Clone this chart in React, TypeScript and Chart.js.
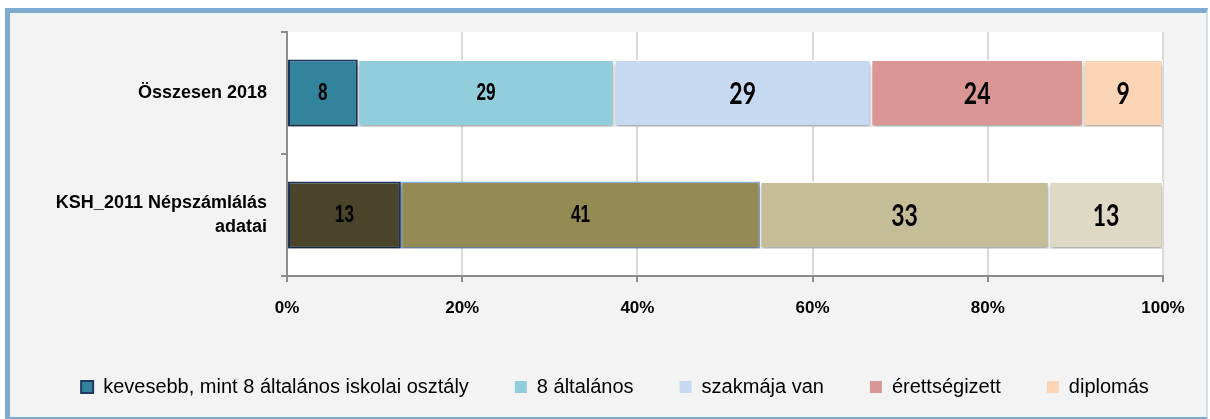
import React, { useEffect, useRef } from "react";
import { Chart, registerables } from "chart.js";

Chart.register(...registerables);

const categories: (string | string[])[] = ["Összesen 2018", ["KSH_2011 Népszámlálás", "adatai"]];
const seriesNames = [
  "kevesebb, mint 8 általános iskolai osztály",
  "8 általános",
  "szakmája van",
  "érettségizett",
  "diplomás",
];
const kevesebb = [8, 13];
const altalanos8 = [29, 41];
const szakmaja = [29, 33];
const erettsegi = [24, 13];
const diplomas = [9, null];
const xTicks = [0, 20, 40, 60, 80, 100];

const seriesValues: (number | null)[][] = [kevesebb, altalanos8, szakmaja, erettsegi, diplomas];
const fillColors = [
  ["#31849B", "#4A452A"],
  ["#92CDDC", "#948A54"],
  ["#C6D9F1", "#C4BD97"],
  ["#D99694", "#DDD9C4"],
  ["#FBD5B5", "#FFFFFF"],
];
const borderColors = [
  ["#1F3A5F", "#1F3A5F"],
  ["#FFFFFF", "#8DB3E2"],
  ["#FFFFFF", "#FFFFFF"],
  ["#FFFFFF", "#FFFFFF"],
  ["#FFFFFF", "#FFFFFF"],
];

const ARIAL = "'Liberation Sans', Arial, sans-serif";
const CALIBRI = "Lato, 'Open Sans', sans-serif";

export default function App() {
  const ref = useRef<HTMLCanvasElement | null>(null);

  useEffect(() => {
    if (!ref.current) return;
    const totals = categories.map((_, i) =>
      seriesValues.reduce((s, arr) => s + (arr[i] ?? 0), 0)
    );
    const datasets = seriesNames.map((name, d) => ({
      label: name,
      data: seriesValues[d].map((v, i) => (v == null ? null : (v / totals[i]) * 100)),
      backgroundColor: fillColors[d],
      borderColor: borderColors[d],
      borderWidth: d === 0 ? 2 : 1.5,
      borderSkipped: false as const,
      barPercentage: 0.55,
      categoryPercentage: 1,
    }));

    const deco = {
      id: "deco",
      afterLayout(chart: any) {
        if (chart.legend) {
          chart.legend.left += 14;
        }
      },
      beforeDraw(chart: any) {
        const { ctx, chartArea } = chart;
        ctx.save();
        ctx.fillStyle = "#FFFFFF";
        ctx.fillRect(chartArea.left, chartArea.top, chartArea.right - chartArea.left, chartArea.bottom - chartArea.top);
        ctx.restore();
      },
      beforeDatasetsDraw(chart: any) {
        const ctx = chart.ctx;
        ctx.save();
        ctx.shadowColor = "rgba(0,0,0,0.35)";
        ctx.shadowBlur = 4;
        ctx.shadowOffsetY = 3;
      },
      afterDatasetsDraw(chart: any) {
        const ctx = chart.ctx;
        ctx.restore();
        ctx.save();
        ctx.fillStyle = "#000";
        ctx.textAlign = "center";
        ctx.textBaseline = "middle";
        seriesValues.forEach((arr, d) => {
          const meta = chart.getDatasetMeta(d);
          arr.forEach((v, i) => {
            if (v == null) return;
            const el = meta.data[i];
            if (!el) return;
            const p = el.getProps(["x", "y", "base"], true);
            const cx = (p.x + p.base) / 2;
            ctx.save();
            ctx.translate(cx, p.y + 1);
            if (d < 2) {
              ctx.font = `bold 21px ${ARIAL}`;
              ctx.scale(0.82, 1.1);
            } else {
              ctx.font = `bold 23px ${CALIBRI}`;
              ctx.scale(1, 1.3);
            }
            ctx.fillText(String(v), 0, 0);
            ctx.restore();
          });
        });
        ctx.restore();
      },
    };

    const chart = new Chart(ref.current, {
      type: "bar",
      data: { labels: categories as any, datasets: datasets as any },
      plugins: [deco],
      options: {
        indexAxis: "y",
        animation: false,
        responsive: true,
        maintainAspectRatio: false,
        layout: { padding: { top: 19, right: 0, left: 0, bottom: 10 } },
        plugins: {
          tooltip: { enabled: false },
          legend: {
            position: "bottom",
            align: "center",
            labels: {
              boxWidth: 12,
              boxHeight: 12,
              padding: 46,
              color: "#000",
              font: { family: ARIAL, size: 20 },
              generateLabels: () =>
                seriesNames.map((name, d) => ({
                  text: name,
                  fillStyle: fillColors[d][0],
                  strokeStyle: d === 0 ? "#1F3A5F" : fillColors[d][0],
                  lineWidth: d === 0 ? 2 : 0,
                  hidden: false,
                  datasetIndex: d,
                  fontColor: "#000",
                })),
            },
          },
        },
        scales: {
          x: {
            stacked: true,
            min: xTicks[0],
            max: xTicks[xTicks.length - 1],
            afterBuildTicks: (s: any) => {
              s.ticks = xTicks.map((v) => ({ value: v }));
            },
            afterFit: (s: any) => {
              s.height = 55;
              s.paddingLeft = 0;
              s.paddingRight = 0;
            },
            ticks: {
              color: "#000",
              padding: 16,
              maxRotation: 0,
              font: { family: ARIAL, size: 17, weight: "bold" },
              callback: (v: any) => `${v}%`,
            },
            grid: {
              color: "#D9D9D9",
              lineWidth: 2,
              tickColor: "#8C8C8C",
              tickLength: 6,
            },
            border: { color: "#8C8C8C", width: 2 },
          },
          y: {
            stacked: true,
            offset: true,
            afterFit: (s: any) => {
              s.width = 277;
              s.paddingTop = 0;
              s.paddingBottom = 0;
            },
            ticks: {
              color: "#000",
              padding: 14,
              font: { family: ARIAL, size: 18, weight: "bold", lineHeight: 1.35 },
            },
            grid: {
              offset: true,
              drawOnChartArea: false,
              color: "#8C8C8C",
              lineWidth: 2,
              tickLength: 6,
            },
            border: { color: "#8C8C8C", width: 2 },
          },
          spacer: {
            type: "linear",
            axis: "y",
            position: "right",
            display: true,
            ticks: { display: false },
            grid: { display: false, drawTicks: false },
            border: { display: false },
            afterFit: (s: any) => {
              s.width = 43;
              s.paddingTop = 0;
              s.paddingBottom = 0;
            },
          },
        },
      },
    });
    return () => chart.destroy();
  }, []);

  return (
    <div
      style={{
        position: "absolute",
        left: 5,
        top: 8,
        width: 1203,
        height: 411,
        boxSizing: "border-box",
        borderTop: "5px solid #7EABCF",
        borderLeft: "5px solid #7EABCF",
        borderBottom: "2px solid #7EABCF",
        borderRight: "2px solid #D5DDE5",
        background: "#F3F3F3",
      }}
    >
      <div style={{ position: "relative", width: 1196, height: 404 }}>
        <canvas ref={ref} />
      </div>
    </div>
  );
}
